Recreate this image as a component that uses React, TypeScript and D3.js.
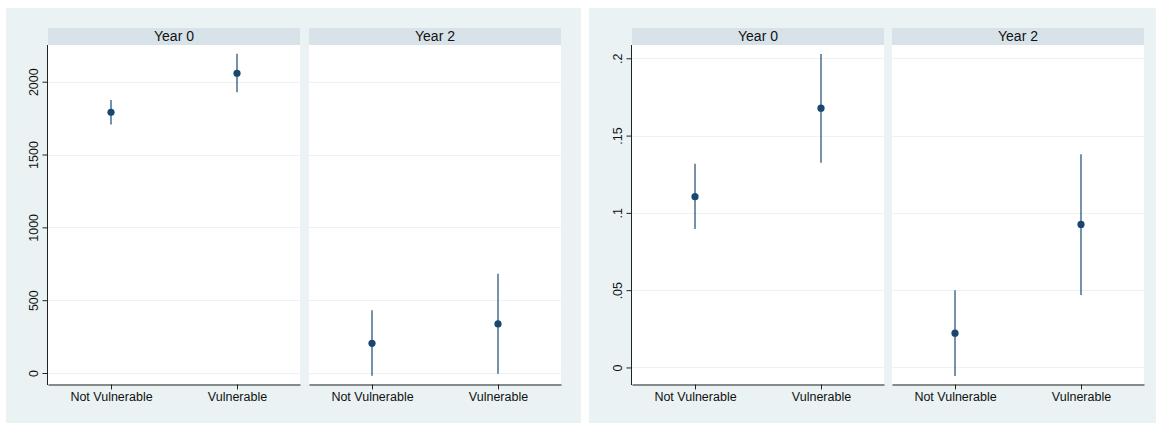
import React, { useEffect, useRef } from 'react'
import * as d3 from 'd3'

// categories and facets
const categories = ['Not Vulnerable', 'Vulnerable']
const years = ['Year 0', 'Year 2']

// left graph: point estimate + 95% CI, one array per facet
const leftYear0 = [1790, 2058]
const leftYear0Lo = [1707, 1927]
const leftYear0Hi = [1875, 2192]
const leftYear2 = [204, 337]
const leftYear2Lo = [-18, -5]
const leftYear2Hi = [430, 681]
const leftTicks = [0, 500, 1000, 1500, 2000]
const leftTickLabels = ['0', '500', '1000', '1500', '2000']

// right graph
const rightYear0 = [0.1105, 0.1677]
const rightYear0Lo = [0.0895, 0.1325]
const rightYear0Hi = [0.1317, 0.2028]
const rightYear2 = [0.0222, 0.0925]
const rightYear2Lo = [-0.0056, 0.0468]
const rightYear2Hi = [0.05, 0.138]
const rightTicks = [0, 0.05, 0.1, 0.15, 0.2]
const rightTickLabels = ['0', '.05', '.1', '.15', '.2']

const BG = '#eaf2f3'
const STRIP = '#d7e3e9'
const NAVY = '#1a476f'
const FONT = 'Liberation Sans, Arial, sans-serif'

function drawGraph(svg, opts) {
  const { x0, x1, panelX, panelW, yDomain, ticks, tickLabels, facets } = opts
  const top = 45, bottom = 384, stripTop = 28

  svg.append('rect').attr('x', x0).attr('y', 8).attr('width', x1 - x0).attr('height', 415).attr('fill', BG)

  const y = d3.scaleLinear().domain(yDomain).range([bottom, top])

  facets.forEach((f, i) => {
    const px = panelX[i]
    const x = d3.scalePoint().domain(categories).range([px, px + panelW]).padding(0.5)

    // strip
    svg.append('rect').attr('x', px).attr('y', stripTop).attr('width', panelW).attr('height', top - stripTop).attr('fill', STRIP)
    svg.append('text').attr('x', px + panelW / 2).attr('y', top - 4)
      .attr('text-anchor', 'middle').attr('font-family', FONT).attr('font-size', 14).attr('fill', '#111')
      .text(years[i])

    // plot region
    svg.append('rect').attr('x', px).attr('y', top).attr('width', panelW).attr('height', bottom - top).attr('fill', '#fff')

    // grid
    svg.append('g').selectAll('line').data(ticks).enter().append('line')
      .attr('x1', px).attr('x2', px + panelW)
      .attr('y1', d => Math.round(y(d)) + 0.5).attr('y2', d => Math.round(y(d)) + 0.5)
      .attr('stroke', BG).attr('stroke-width', 1)

    // x axis
    const xa = svg.append('g').attr('transform', 'translate(0,' + (bottom + 0.5) + ')')
      .call(d3.axisBottom(x).tickSizeInner(5).tickSizeOuter(0).tickPadding(3))
    xa.select('.domain').attr('stroke', '#222')
    xa.selectAll('.tick line').attr('stroke', '#222')
    xa.selectAll('text').attr('font-family', FONT).attr('font-size', 12.5).attr('fill', '#111')

    // CIs
    svg.append('g').selectAll('line').data(categories).enter().append('line')
      .attr('x1', d => x(d)).attr('x2', d => x(d))
      .attr('y1', (d, j) => y(f.lo[j])).attr('y2', (d, j) => y(f.hi[j]))
      .attr('stroke', NAVY).attr('stroke-opacity', 0.85).attr('stroke-width', 1.4)

    // points
    svg.append('g').selectAll('circle').data(categories).enter().append('circle')
      .attr('cx', d => x(d)).attr('cy', (d, j) => y(f.est[j]))
      .attr('r', 3.6).attr('fill', NAVY)
  })

  // y axis on first panel
  const ya = svg.append('g').attr('transform', 'translate(' + (panelX[0] - 0.5) + ',0)')
    .call(d3.axisLeft(y).tickValues(ticks).tickFormat((d, i) => tickLabels[i]).tickSizeInner(5).tickSizeOuter(0).tickPadding(3))
  ya.select('.domain').attr('stroke', '#222').attr('d', 'M0,' + top + 'V' + (bottom + 1))
  ya.selectAll('.tick line').attr('stroke', '#222')
  ya.selectAll('text')
    .attr('font-family', FONT).attr('font-size', 12.5).attr('fill', '#111')
    .attr('text-anchor', 'middle').attr('dy', null).attr('x', null)
    .attr('transform', 'translate(-13,0) rotate(-90)')
    .attr('dominant-baseline', 'middle')
}

export default function App() {
  const ref = useRef(null)

  useEffect(() => {
    const svg = d3.select(ref.current)
    svg.selectAll('*').remove()

    drawGraph(svg, {
      x0: 6, x1: 581,
      panelX: [48, 309], panelW: 252,
      yDomain: [-75.5, 2252],
      ticks: leftTicks, tickLabels: leftTickLabels,
      facets: [
        { est: leftYear0, lo: leftYear0Lo, hi: leftYear0Hi },
        { est: leftYear2, lo: leftYear2Lo, hi: leftYear2Hi }
      ]
    })

    drawGraph(svg, {
      x0: 589, x1: 1156,
      panelX: [632, 892], panelW: 252,
      yDomain: [-0.0107, 0.2086],
      ticks: rightTicks, tickLabels: rightTickLabels,
      facets: [
        { est: rightYear0, lo: rightYear0Lo, hi: rightYear0Hi },
        { est: rightYear2, lo: rightYear2Lo, hi: rightYear2Hi }
      ]
    })
  }, [])

  return (
    <svg ref={ref} width={1156} height={423}
      style={{ position: 'absolute', left: 0, top: 0, background: '#fff' }} />
  )
}
